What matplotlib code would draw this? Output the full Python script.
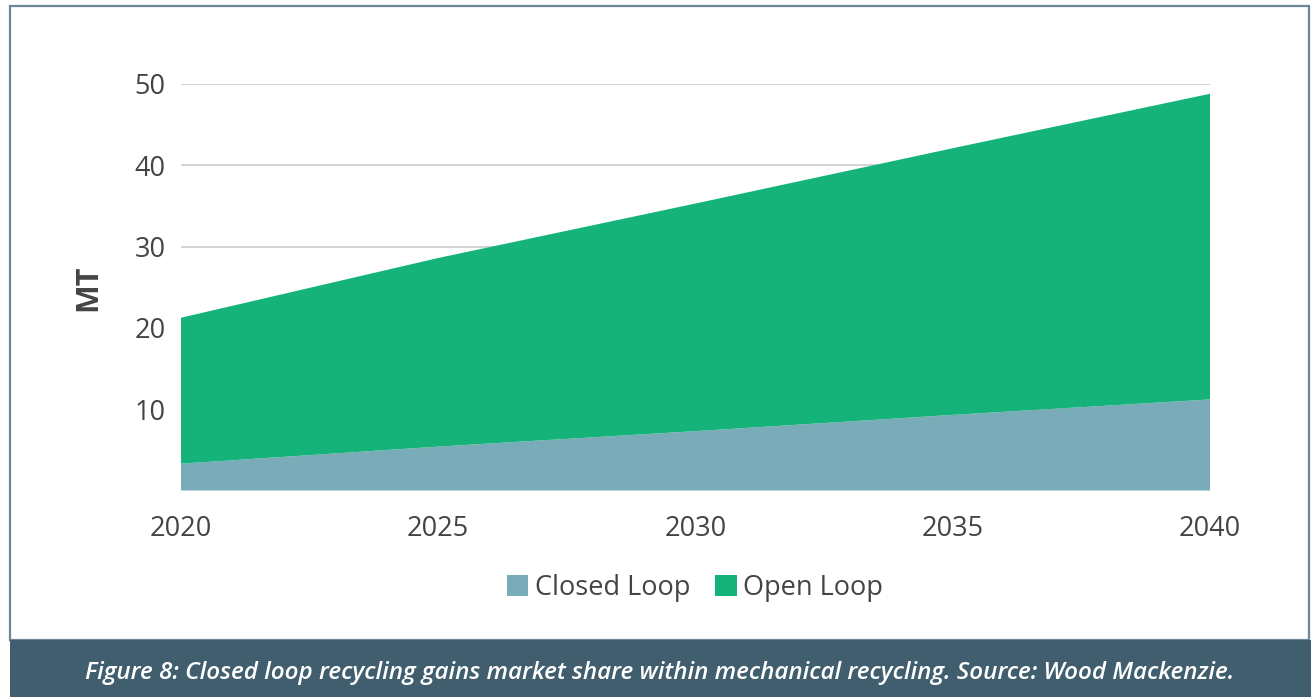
import matplotlib.pyplot as plt
from matplotlib.patches import Rectangle

plt.rcParams['font.family'] = ['Open Sans', 'DejaVu Sans']

# Mechanical recycling volumes, million tonnes
years = [2020, 2025, 2030, 2035, 2040]
closed_loop = [3.3, 5.4, 7.3, 9.3, 11.2]
open_loop = [17.95, 23.2, 28.0, 32.8, 37.6]
series_names = ['Closed Loop', 'Open Loop']
series_colors = ['#7aabb8', '#15b37a']
y_ticks = [10, 20, 30, 40, 50]
caption = ('Figure 8: Closed loop recycling gains market share within '
           'mechanical recycling. Source: Wood Mackenzie.')

W, H = 1316, 697
fig = plt.figure(figsize=(W / 100, H / 100), dpi=100)
text_col = '#444444'

# outer frame and caption band
fig.patches.append(Rectangle((10 / W, 1 - 640 / H), 1299 / W, 634 / H,
                             transform=fig.transFigure, fill=False,
                             edgecolor='#6c8897', linewidth=1.6))
fig.patches.append(Rectangle((10 / W, 0), 1301 / W, 57 / H,
                             transform=fig.transFigure, facecolor='#405e6d',
                             edgecolor='none'))
fig.text(660 / W, 1 - 673 / H, caption, color='white', fontsize=17.5,
         style='italic', fontweight='semibold', ha='center', va='center')

ax = fig.add_axes([181 / W, 1 - 490.5 / H, 1029 / W, 406.5 / H])
stacks = ax.stackplot(years, closed_loop, open_loop, colors=series_colors,
                      labels=series_names, linewidth=0)

ax.set_xlim(2020, 2040)
ax.set_ylim(0, 50)
ax.set_xticks(years)
ax.set_yticks(y_ticks)
ax.tick_params(axis='both', length=0, labelsize=19.5, labelcolor=text_col)
ax.tick_params(axis='x', pad=18)
ax.tick_params(axis='y', pad=11)
ax.grid(axis='y', color='#cccccc', linewidth=1.2)
ax.set_axisbelow(True)
for s in ax.spines.values():
    s.set_visible(False)

ax.set_ylabel('MT', fontsize=22, fontweight='bold', color=text_col)
ax.yaxis.set_label_coords((103 - 181) / 1029, (490.5 - 288) / 406.5)

fig.legend(handles=stacks, labels=series_names, loc='center',
           bbox_to_anchor=(695 / W, 1 - 588 / H), ncol=2, frameon=False,
           fontsize=19.5, labelcolor=text_col, handlelength=0.8,
           handleheight=0.8, handletextpad=0.25, columnspacing=0.9)

fig.savefig('out.png', dpi=100)
